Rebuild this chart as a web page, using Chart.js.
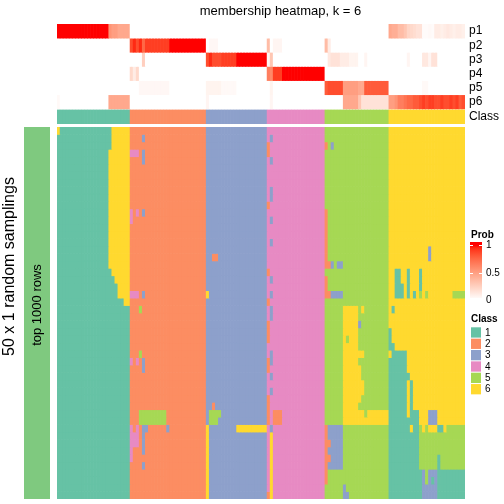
<!DOCTYPE html>
<html>
<head>
<meta charset="utf-8">
<title>membership heatmap, k = 6</title>
<script src="https://cdn.jsdelivr.net/npm/chart.js@4.4.1/dist/chart.umd.min.js"></script>
<style>
  html, body { margin: 0; padding: 0; background: #fff; }
  body { position: relative; width: 504px; height: 504px; overflow: hidden; }
  .panel { position: absolute; }
  canvas { display: block; }
  #warn { position: absolute; left: 0; top: 0; color: red; font: 10px sans-serif; z-index: 9; }
</style>
</head>
<body>
<div class="panel" style="left:18px; top:0; width:486px; height:126px"><canvas id="topAnno" width="486" height="126"></canvas></div>
<div class="panel" style="left:0; top:126px; width:504px; height:378px"><canvas id="heatmap" width="504" height="378"></canvas></div>
<div class="panel" style="left:0; top:0; width:57px; height:504px"><canvas id="rowAnno" width="57" height="504"></canvas></div>
<div id="warn"></div>
<script>
const family = '"Liberation Sans", Arial, Helvetica, sans-serif';
Chart.defaults.font.family = family;
Chart.defaults.color = '#000';

// ---- data ----
const classNames = ['1', '2', '3', '4', '5', '6'];
const classColors = ['#66C2A5', '#FC8D62', '#8DA0CB', '#E78AC3', '#A6D854', '#FFD92F'];
const probNames = ['p1', 'p2', 'p3', 'p4', 'p5', 'p6'];
const probTicks = [1, 0.5, 0];
const rowAnnoLabel = 'top 1000 rows';
const rowTitle = '50 x 1 random samplings';

// consensus class of every sample (column), left to right
const sampleClass = (
  '111111111111111111111111' +
  '2222222222222222222222222' +
  '33333333333333333333' +
  '4444444444444444444' +
  '555555555555555555555' +
  '6666666666666666666666666'
).split('').map(Number);

// membership probabilities, one value per sample
const p1 = [
  1, 1, 1, 1, 1,  1, 1, 1, 1, 1,  1, 1, 1, 1, 1,  1, 1, 0.55, 0.5, 0.5,  0.45, 0.45, 0.45, 0.45,
  0, 0, 0, 0, 0,  0, 0, 0, 0, 0,  0, 0, 0, 0, 0,  0, 0, 0, 0, 0,  0, 0, 0, 0, 0,
  0, 0, 0, 0, 0,  0, 0, 0, 0, 0,  0, 0, 0, 0, 0,  0, 0, 0, 0, 0,
  0, 0, 0, 0, 0,  0, 0, 0, 0, 0,  0, 0, 0, 0, 0,  0, 0, 0, 0,
  0, 0, 0, 0, 0,  0, 0, 0, 0, 0,  0, 0, 0, 0, 0,  0, 0, 0, 0, 0,  0,
  0.45, 0.42, 0.42, 0.35, 0.35,  0.3, 0.22, 0.2, 0.18, 0.15,  0.15, 0.02, 0.02, 0.03, 0.02,  0.1, 0.1, 0.08, 0.1, 0.12,  0.1, 0.08, 0.1, 0.1, 0.08
];
const p2 = [
  0, 0, 0, 0, 0,  0, 0, 0, 0, 0,  0, 0, 0, 0, 0,  0, 0, 0, 0, 0,  0, 0, 0, 0,
  0.85, 0.95, 0.85, 0.95, 0.75,  0.9, 0.9, 0.9, 0.9, 0.9,  0.9, 0.9, 0.9, 1, 1,  1, 1, 1, 1, 1,  1, 1, 1, 1, 1,
  0, 0.04, 0.04, 0.04, 0,  0, 0, 0, 0, 0,  0, 0, 0, 0, 0,  0, 0, 0, 0, 0,
  0.35, 0, 0.05, 0.05, 0.05,  0, 0, 0, 0, 0,  0, 0, 0, 0, 0,  0, 0, 0, 0,
  0.35, 0.1, 0, 0, 0,  0, 0, 0, 0, 0,  0, 0, 0, 0, 0,  0, 0, 0, 0, 0,  0,
  0, 0, 0, 0, 0,  0, 0, 0, 0, 0,  0, 0, 0, 0, 0,  0, 0, 0, 0, 0,  0, 0, 0, 0, 0
];
const p3 = [
  0, 0, 0, 0, 0,  0, 0, 0, 0, 0,  0, 0, 0, 0, 0,  0, 0, 0, 0, 0,  0, 0, 0, 0,
  0, 0, 0, 0, 0.25,  0, 0, 0, 0, 0,  0, 0, 0, 0, 0,  0, 0, 0, 0, 0,  0, 0, 0, 0, 0,
  0.85, 0.95, 0.85, 0.85, 0.85,  0.9, 0.9, 0.9, 0.9, 0.9,  1, 1, 1, 1, 1,  1, 1, 1, 1, 1,
  0.05, 0.3, 0, 0, 0,  0, 0, 0, 0, 0,  0, 0, 0, 0, 0,  0, 0, 0, 0,
  0, 0.12, 0.15, 0.15, 0.15,  0.1, 0.1, 0.1, 0.06, 0.06,  0.06, 0, 0, 0.05, 0,  0, 0, 0, 0, 0,  0,
  0, 0, 0, 0, 0,  0, 0.05, 0, 0, 0,  0, 0.12, 0.12, 0.05, 0.15,  0.15, 0, 0, 0, 0,  0, 0, 0, 0, 0
];
const p4 = [
  0, 0, 0, 0, 0,  0, 0, 0, 0, 0,  0, 0, 0, 0, 0,  0, 0, 0, 0, 0,  0, 0, 0, 0,
  0.2, 0.1, 0.2, 0, 0,  0, 0, 0, 0, 0,  0, 0, 0, 0, 0,  0, 0, 0, 0, 0,  0, 0, 0, 0, 0,
  0, 0, 0, 0, 0,  0, 0, 0, 0, 0,  0, 0, 0, 0, 0,  0, 0, 0, 0, 0,
  0.65, 0.6, 0.9, 0.9, 0.9,  1, 1, 1, 1, 1,  1, 1, 1, 1, 1,  1, 1, 1, 1,
  0, 0, 0, 0, 0,  0, 0, 0, 0, 0,  0, 0, 0, 0, 0,  0, 0, 0, 0, 0,  0,
  0, 0, 0, 0, 0,  0, 0, 0, 0, 0,  0, 0, 0, 0, 0,  0, 0, 0, 0, 0,  0, 0, 0, 0, 0
];
const p5 = [
  0, 0, 0, 0, 0,  0, 0, 0, 0, 0,  0, 0, 0, 0, 0,  0, 0, 0, 0, 0,  0, 0, 0, 0,
  0, 0, 0, 0.04, 0.04,  0.04, 0.04, 0.04, 0.04, 0.04,  0.04, 0.04, 0.04, 0, 0,  0, 0, 0, 0, 0,  0, 0, 0, 0, 0,
  0.06, 0.06, 0.06, 0.06, 0.06,  0.03, 0.03, 0.03, 0.03, 0.03,  0, 0, 0, 0, 0,  0, 0, 0, 0, 0,
  0, 0.06, 0, 0, 0,  0, 0, 0, 0, 0,  0, 0, 0, 0, 0,  0, 0, 0, 0,
  0.8, 0.85, 0.85, 0.85, 0.85,  0.85, 0.5, 0.5, 0.5, 0.5,  0.5, 0.45, 0.45, 0.8, 0.8,  0.8, 0.8, 0.8, 0.8, 0.8,  0.8,
  0, 0, 0, 0, 0,  0, 0, 0, 0, 0,  0, 0.03, 0.03, 0, 0,  0, 0, 0, 0, 0,  0, 0, 0, 0, 0
];
const p6 = [
  0.03, 0, 0, 0, 0,  0, 0, 0, 0, 0,  0, 0, 0, 0, 0,  0, 0, 0.45, 0.45, 0.45,  0.45, 0.45, 0.45, 0.45,
  0, 0, 0, 0, 0,  0, 0, 0, 0, 0,  0, 0, 0, 0, 0,  0, 0, 0, 0, 0,  0, 0, 0, 0, 0,
  0.05, 0, 0, 0, 0,  0, 0, 0, 0, 0,  0, 0, 0, 0, 0,  0, 0, 0, 0, 0,
  0, 0.05, 0, 0, 0,  0, 0, 0, 0, 0,  0, 0, 0, 0, 0,  0, 0, 0, 0,
  0, 0, 0, 0, 0,  0, 0.45, 0.45, 0.45, 0.45,  0.45, 0.3, 0.15, 0.15, 0.15,  0.15, 0.15, 0.15, 0.15, 0.15,  0.15,
  0.5, 0.5, 0.55, 0.65, 0.65,  0.7, 0.75, 0.75, 0.8, 0.8,  0.85, 0.9, 0.85, 0.9, 0.9,  0.85, 0.85, 0.9, 0.85, 0.85,  0.9, 0.85, 0.9, 0.8, 0.85
];

// class called in each of the 50 random samplings (rows, top to bottom),
// written per consensus group: 24 | 25 | 20 | 19 | 21 | 25 samples
const samplingRows = [
  '611111111111111111666666 2222222222222222222222222 33333333333333333333 4444444444444444444 555555555555555555555 6666666666666666666666666',
  '111111111111111111666666 2222322222222222222222222 33333333333333333333 4344444444444444444 555555555555555555555 6666666666666666666666666',
  '111111111111111111666666 2222222222222222222222222 33333333333333333333 2444444444444444444 253555555555555555555 6666666666666666666666666',
  '111111111111111116666666 4442322222222222222222222 33333333333333333333 2444444444444444444 555555555555555555555 6666666666666666666666666',
  '111111111111111116666666 2222322222222222222222222 33333333333333333333 4344444444444444444 555555555555555555555 6666666666666666666666666',
  '111111111111111116666666 2222222222222222222222222 33333333333333333333 4444444444444444444 555555555555555555555 6666666666666666666666666',
  '111111111111111116666666 2222222222222222222222222 33333333333333333333 4444444444444444444 555555555555555555555 6666666666666666666666666',
  '111111111111111116666666 2222222222222222222222222 33333333333333333333 4444444444444444444 555555555555555555555 6666666666666666666666666',
  '111111111111111116666666 2222222222222222222222222 33333333333333333333 4344444444444444444 555555555555555555555 6666666666666666666666666',
  '111111111111111116666666 2222222222222222222222222 33333333333333333333 4344444444444444444 555555555555555555555 6666666666666666666666666',
  '111111111111111116666666 2222222222222222222222222 33333333333333333333 2444444444444444444 555555555555555555555 6666666666666666666666666',
  '111111111111111116666666 4242322222222222222222222 33333333333333333333 4444444444444444444 255555555555555555555 6666666666666666666666666',
  '111111111111111116666666 4222222222222222222222222 33333333333333333333 4344444444444444444 255555555555555555555 6666666666666666666666666',
  '111111111111111116666666 2222222222222222222222222 33333333333333333333 4444444444444444444 255555555555555555555 6666666666666666666666666',
  '111111111111111116666666 2222222222222222222222222 33333333333333333333 4444444444444444444 255555555555555555555 6666666666666666666666666',
  '111111111111111116666666 2222222222222222222222222 33333333333333333333 4344444444444444444 255555555555555555555 6666666666666666666666666',
  '111111111111111116666666 2222222222222222222222222 33333333333333333333 4444444444444444444 255555555555555555555 6666666666666366666666666',
  '111111111111111116666666 2222222222222222222222222 33223333333333333333 4444444444444444444 255555555555555555555 6666666666666366666666666',
  '111111111111111116666666 2222222222222222222222222 33333333333333333333 4444444444444444444 223533555555555555555 6666666666666666666666666',
  '111111111111111111666666 2222222222222222222222222 33333333333333333333 2444444444444444444 555555555555555555555 6611661666166666666666666',
  '111111111111111111166666 2222222222222222222222222 33333333333333333333 4344444444444444444 255555555555555555555 6611661666166666666666666',
  '111111111111111111116666 2222222222222222222222222 33333333333333333333 4444444444444444444 255555555555555555555 6611161666166666666666666',
  '111111111111111111116666 4442322222222222222222222 63333333333333333333 4344444444444444444 223333555555555555555 6611161616565666666665555',
  '111111111111111111111166 2222222222222222222222222 33333333333333333333 2444444444444444444 555555555555555555555 6666666666666666666666666',
  '111111111111111111111111 2225222222222222222222222 33333333333333333333 4344444444444444444 555555666665655555555 6166666666666666666666666',
  '111111111111111111111111 2222222222222222222222222 33333333333333333333 4344444444444444444 555555666665555555555 6666666666666666666666666',
  '111111111111111111111111 2222222222222222222222222 33333333333333333333 2444444444444444444 555555666663555555555 6666666666666666666666666',
  '111111111111111111111111 2222222222222222222222222 33333333333333333333 2444444444444444444 555555666665555555555 1666666666666666666666666',
  '111111111111111111111111 2222222222222222222222222 33333333333333333333 2444444444444444444 555555656665555555555 1666666666666666666666666',
  '111111111111111111111111 2222222222222222222222222 33333333333333333333 4444444444444444444 555555666665555555555 1166666666666666666666666',
  '111111111111111111111111 2225222222222222222222222 33333333333333333333 4344444444444444444 555555666666655555555 6111116666666666666666666',
  '111111111111111111111111 4242322222222222222222222 33333333333333333333 2344444444444444444 555555666665555555555 1111116666666666666666666',
  '111111111111111111111111 2222322222222222222222222 33333333333333333333 2444444444444444444 555555666666555555555 1111116666666666666666666',
  '111111111111111111111111 2222222222222222222222222 33333333333333333333 4344444444444444444 555555666666555555555 1111111666666666666666666',
  '111111111111111111111111 2222222222222222222222222 33333333333333333333 4444444444444444444 555555666666655555555 1111116166666666666666666',
  '111111111111111111111111 2222222222222222222222222 33333333333333333333 4344444444444444444 555555666666655555555 1111116166666666666666666',
  '111111111111111111111111 2222222222222222222222222 33333333333333333333 2444444444444444444 555555666666555555555 1111116166666666666666666',
  '111111111111111111111111 2222222222222222222222222 33233333333333333333 2444444444444444444 555555666665555555555 1111116166666666666666666',
  '111111111111111111111111 2225555555552222222222222 35555333333333333333 2422244444444444444 555555666666656666666 1111116111666333666666666',
  '111111111111111111111111 2225555555552222222222222 35553333333333333333 2422244444444444444 555555666666666666666 1111111111666333666666666',
  '111111111111111111111111 4242332222223222222222222 63333333336666666666 4344444444444444444 233333555555555555555 1111111611565666116555555',
  '111111111111111111111111 4442322222222222222222222 63333333333333333333 4644444444444444444 233333555555555555555 1111111111555555555555555',
  '111111111111111111111111 4442322222222222222222222 63333333333333333333 4644444444444444444 223333555555555555555 1111111111555555555555555',
  '111111111111111111111111 4222322222222222222222222 63333333333333333333 4644444444444444444 233333555555555555555 1111111111555555555555555',
  '111111111111111111111111 4222222222222222222222222 63333333333333333333 4644444444444444444 223333555555555555555 1111111111555555155555555',
  '111111111111111111111111 2222322222222222222222222 63333333333333333333 4644444444444444444 233333555555555555555 1111111111555555155555555',
  '111111111111111111111111 2222222222222222222222222 63333333333333333333 4644444444444444444 255555555555555555555 1111111111135333111111111',
  '111111111111111111111111 2222222222222222222222222 63333333333333333333 4644444444444444444 255555555555555555555 1111111111135313111111111',
  '111111111111111111111111 2222222222222222222222222 63333333333333333333 4644444444444444444 555555355555555555555 1111111111133333111111111',
  '111111111111111111111111 2222222222222222222222222 63333333333333333333 2644444444444444444 555555335555555555555 1111111111133333111111111'
];

// ---- sanity check of the typed tables ----
const warn = [];
const probs = [p1, p2, p3, p4, p5, p6];
probs.forEach((p, i) => { if (p.length !== sampleClass.length) warn.push(probNames[i] + ':' + p.length); });
samplingRows.forEach((s, r) => {
  const lens = s.split(' ').map(t => t.length).join(',');
  if (lens !== '24,25,20,19,21,25') warn.push('r' + r + ':' + lens);
});
document.getElementById('warn').textContent = warn.join(' | ');

const samplings = samplingRows.map(s => s.replace(/ /g, '').split('').map(Number));
const sampleIds = sampleClass.map((_, i) => 'sample ' + (i + 1));

// white -> red, interpolated in Lab space
function probColor(v) {
  const L = 100 + (53.24 - 100) * v, A = 80.09 * v, B = 67.2 * v;
  const fy = (L + 16) / 116, fx = fy + A / 500, fz = fy - B / 200;
  const f = t => (t > 0.206897 ? t * t * t : (t - 16 / 116) / 7.787);
  const X = 0.95047 * f(fx), Y = f(fy), Z = 1.08883 * f(fz);
  const lin = [
    3.2406 * X - 1.5372 * Y - 0.4986 * Z,
    -0.9689 * X + 1.8758 * Y + 0.0415 * Z,
    0.0557 * X - 0.2040 * Y + 1.0570 * Z
  ];
  const c = lin.map(u => {
    u = Math.min(1, Math.max(0, u));
    const s = u <= 0.0031308 ? 12.92 * u : 1.055 * Math.pow(u, 1 / 2.4) - 0.055;
    return Math.round(255 * s);
  });
  return `rgb(${c[0]},${c[1]},${c[2]})`;
}
const classColor = k => classColors[k - 1];

const cellBars = { barPercentage: 1, categoryPercentage: 1, borderWidth: 0, borderSkipped: false };
const quiet = { legend: { display: false }, tooltip: { enabled: false } };

// ---- top annotation: p1..p6 + Class ----
const annoLabels = probNames.concat(['Class']);
const annoGap = 0.07;
new Chart(document.getElementById('topAnno'), {
  type: 'bar',
  data: {
    labels: sampleIds,
    datasets: [
      ...probs.map((p, i) => ({ label: probNames[i], data: p.map(() => 1), backgroundColor: p.map(probColor) })),
      { label: 'gap', data: sampleIds.map(() => annoGap), backgroundColor: 'rgba(0,0,0,0)' },
      { label: 'Class', data: sampleIds.map(() => 1), backgroundColor: sampleClass.map(classColor) }
    ]
  },
  options: {
    responsive: false,
    animation: false,
    layout: { padding: { left: 39, right: 0, top: 0, bottom: 2 } },
    datasets: { bar: cellBars },
    plugins: {
      ...quiet,
      title: {
        display: true,
        text: 'membership heatmap, k = 6',
        color: '#000',
        font: { size: 13, weight: 'normal' },
        padding: { top: 4, bottom: 4.4 }
      }
    },
    scales: {
      x: { display: false, stacked: true },
      y: {
        position: 'right',
        stacked: true,
        reverse: true,
        min: 0,
        max: probNames.length + annoGap + 1,
        grid: { display: false, drawTicks: false },
        border: { display: false },
        afterBuildTicks: ax => {
          ax.ticks = annoLabels.map((_, i) => ({ value: i < probNames.length ? i + 0.5 : i + annoGap + 0.5 }));
        },
        afterFit: ax => {
          ax.width = 39;
          ax.paddingTop = 0;
          ax.paddingBottom = 0;
        },
        ticks: {
          autoSkip: false,
          padding: 4,
          color: '#000',
          font: { size: 12 },
          callback: (v, i) => annoLabels[i]
        }
      }
    }
  }
});

// ---- legends on the right of the heatmap ----
const sideLegends = {
  id: 'sideLegends',
  afterDraw(chart) {
    const ctx = chart.ctx;
    const x0 = chart.chartArea.right + 5;
    ctx.save();
    ctx.textAlign = 'left';
    ctx.fillStyle = '#000';
    ctx.textBaseline = 'alphabetic';
    ctx.font = 'bold 10px ' + family;
    ctx.fillText('Prob', x0 + 1, 111.5);

    const yOne = 119.3, yZero = 173.7;
    const grad = ctx.createLinearGradient(0, yOne, 0, yZero);
    for (let s = 0; s <= 20; s++) grad.addColorStop(s / 20, probColor(1 - s / 20));
    ctx.fillStyle = grad;
    ctx.fillRect(x0, 116, 12, 56);
    ctx.font = '10px ' + family;
    ctx.textBaseline = 'middle';
    probTicks.forEach(v => {
      const y = Math.round(yZero - (yZero - yOne) * v) + 0.5;
      ctx.strokeStyle = '#fff';
      ctx.lineWidth = 1;
      ctx.beginPath();
      ctx.moveTo(x0, y); ctx.lineTo(x0 + 3, y);
      ctx.moveTo(x0 + 9, y); ctx.lineTo(x0 + 12, y);
      ctx.stroke();
      ctx.fillStyle = '#000';
      ctx.fillText(String(v), x0 + 16, y);
    });

    ctx.textBaseline = 'alphabetic';
    ctx.font = 'bold 10px ' + family;
    ctx.fillText('Class', x0 + 1, 196);
    ctx.font = '10px ' + family;
    ctx.textBaseline = 'middle';
    classNames.forEach((name, i) => {
      const top = 201.3 + i * 11.35;
      ctx.fillStyle = classColors[i];
      ctx.fillRect(x0 + 1, top, 10, 10.3);
      ctx.fillStyle = '#000';
      ctx.fillText(name, x0 + 15, top + 5.5);
    });
    ctx.restore();
  }
};

// ---- main heatmap: 50 samplings x samples ----
new Chart(document.getElementById('heatmap'), {
  type: 'bar',
  data: {
    labels: sampleIds,
    datasets: samplings.map((row, r) => ({
      label: 'sampling ' + (r + 1),
      data: row.map(() => 1),
      backgroundColor: row.map(classColor)
    }))
  },
  options: {
    responsive: false,
    animation: false,
    layout: { padding: { left: 57, right: 39, top: 1, bottom: 5 } },
    datasets: { bar: cellBars },
    plugins: quiet,
    scales: {
      x: { display: false, stacked: true },
      y: { display: false, stacked: true, reverse: true, min: 0, max: samplings.length }
    }
  },
  plugins: [sideLegends]
});

// ---- row annotation bar on the left, plus the row title ----
const rowTexts = {
  id: 'rowTexts',
  afterDatasetsDraw(chart) {
    const el = chart.getDatasetMeta(0).data[0];
    const ctx = chart.ctx;
    ctx.save();
    ctx.fillStyle = '#000';
    ctx.textAlign = 'center';
    ctx.textBaseline = 'middle';
    ctx.font = '13px ' + family;
    ctx.translate(el.x, (el.y + el.base) / 2 - 8);
    ctx.rotate(-Math.PI / 2);
    ctx.fillText(chart.data.labels[0], 0, 0);
    ctx.restore();

    ctx.save();
    ctx.fillStyle = '#000';
    ctx.textAlign = 'center';
    ctx.textBaseline = 'middle';
    ctx.font = '16px ' + family;
    ctx.translate(10, 266.5);
    ctx.rotate(-Math.PI / 2);
    ctx.fillText(rowTitle, 0, 0);
    ctx.restore();
  }
};
new Chart(document.getElementById('rowAnno'), {
  type: 'bar',
  data: {
    labels: [rowAnnoLabel],
    datasets: [{ label: rowAnnoLabel, data: [samplings.length], backgroundColor: '#7FC97F' }]
  },
  options: {
    responsive: false,
    animation: false,
    layout: { padding: { left: 24, right: 7, top: 127, bottom: 5 } },
    datasets: { bar: cellBars },
    plugins: quiet,
    scales: {
      x: { display: false },
      y: { display: false, reverse: true, min: 0, max: samplings.length }
    }
  },
  plugins: [rowTexts]
});
</script>
</body>
</html>
